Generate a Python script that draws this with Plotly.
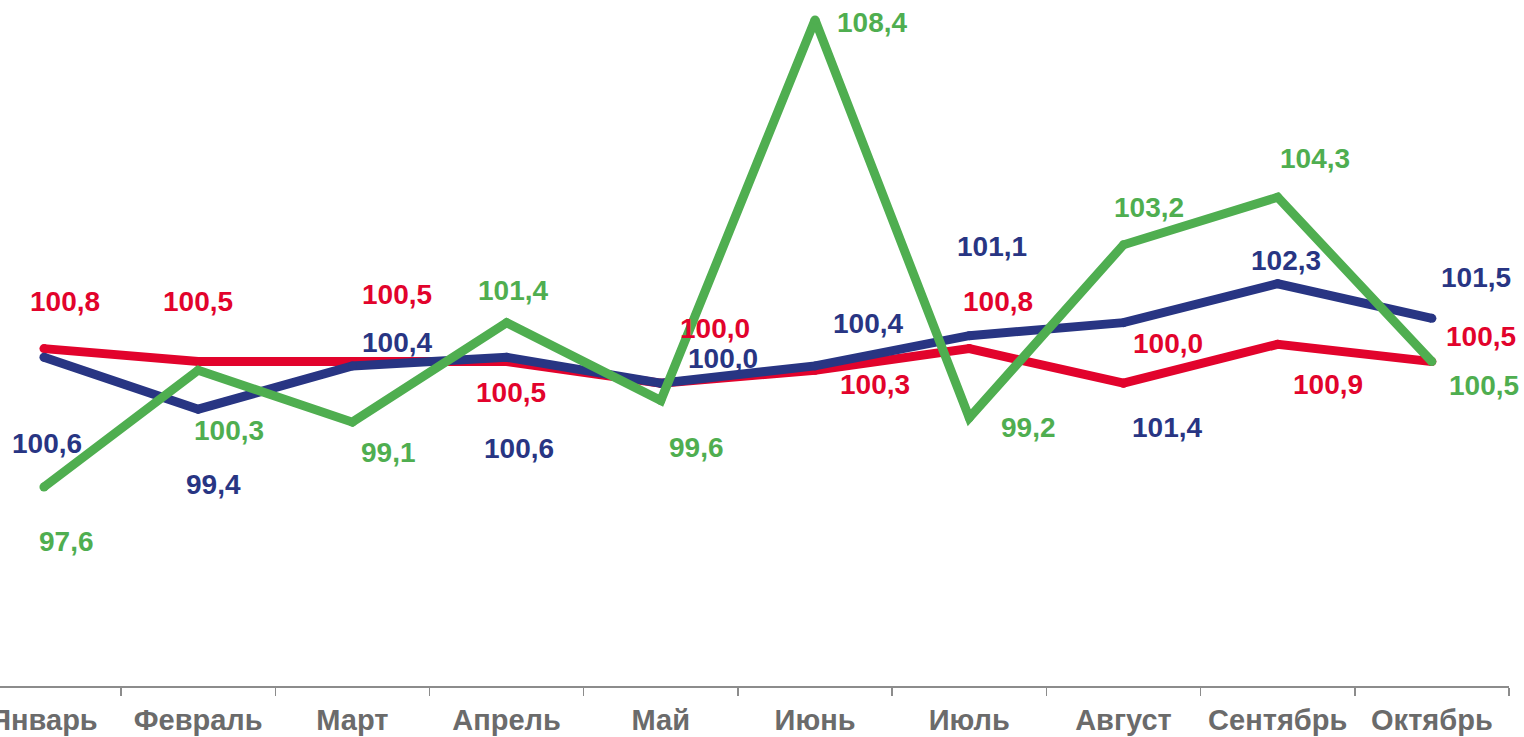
import plotly.graph_objects as go

months = ["Январь", "Февраль", "Март", "Апрель", "Май", "Июнь", "Июль", "Август", "Сентябрь", "Октябрь"]
red_values = [100.8, 100.5, 100.5, 100.5, 100.0, 100.3, 100.8, 100.0, 100.9, 100.5]
blue_values = [100.6, 99.4, 100.4, 100.6, 100.0, 100.4, 101.1, 101.4, 102.3, 101.5]
green_values = [97.6, 100.3, 99.1, 101.4, 99.6, 108.4, 99.2, 103.2, 104.3, 100.5]

RED = "#E2032C"
BLUE = "#283583"
GREEN = "#4FAE50"

# label offsets in screen pixels (dx right, dy down)
red_offsets = [(21, -47), (0, -60), (45, -67), (4, 31), (54, -55), (60, 14), (29, -47), (45, -40), (50, 40), (49, -25)]
blue_offsets = [(3, 86), (15, 75), (45, -23), (12, 91), (62, -25), (53, -42), (23, -89), (44, 105), (8, -23), (44, -41)]
green_offsets = [(23, 54), (31, 60), (36, 30), (6, -32), (36, 47), (57, 3), (59, 10), (26, -37), (37, -39), (52, 24)]

LW = 9
FONT = "Liberation Sans, Arial, sans-serif"

fig = go.Figure()
series = [(red_values, RED, red_offsets), (blue_values, BLUE, blue_offsets), (green_values, GREEN, green_offsets)]
for vals, col, _ in series:
    fig.add_trace(go.Scatter(
        x=months, y=vals, mode="lines+markers",
        line=dict(color=col, width=LW),
        marker=dict(color=col, size=LW, line=dict(width=0)),
        hoverinfo="skip", showlegend=False,
    ))

annotations = []
for vals, col, offs in series:
    for m, v, (dx, dy) in zip(months, vals, offs):
        annotations.append(dict(
            x=m, y=v, xref="x", yref="y",
            text=f"{v:.1f}".replace(".", ","),
            showarrow=False, xshift=dx, yshift=-dy,
            xanchor="center", yanchor="middle",
            font=dict(family=FONT, size=28, color=col, weight=700),
        ))

fig.update_layout(
    width=1524, height=737,
    margin=dict(l=0, r=15, t=0, b=51),
    paper_bgcolor="white", plot_bgcolor="white",
    annotations=annotations,
    hovermode=False,
    xaxis=dict(
        type="category", range=[-0.285, 9.5], automargin=False,
        showline=True, linecolor="#8C8C8C", linewidth=1.5,
        ticks="outside", tickson="boundaries", ticklen=8, tickcolor="#8C8C8C", tickwidth=1.5,
        ticklabelstandoff=8,
        showgrid=False, zeroline=False,
        tickfont=dict(family=FONT, size=29, color="#6B6B6B", weight=700),
    ),
    yaxis=dict(range=[93.0, 108.86], visible=False, showgrid=False, zeroline=False, automargin=False),
)

fig.write_html(
    "out.html",
    config={"displayModeBar": False, "staticPlot": True},
    post_script="document.body.style.margin='0';document.body.style.overflow='hidden';",
)
